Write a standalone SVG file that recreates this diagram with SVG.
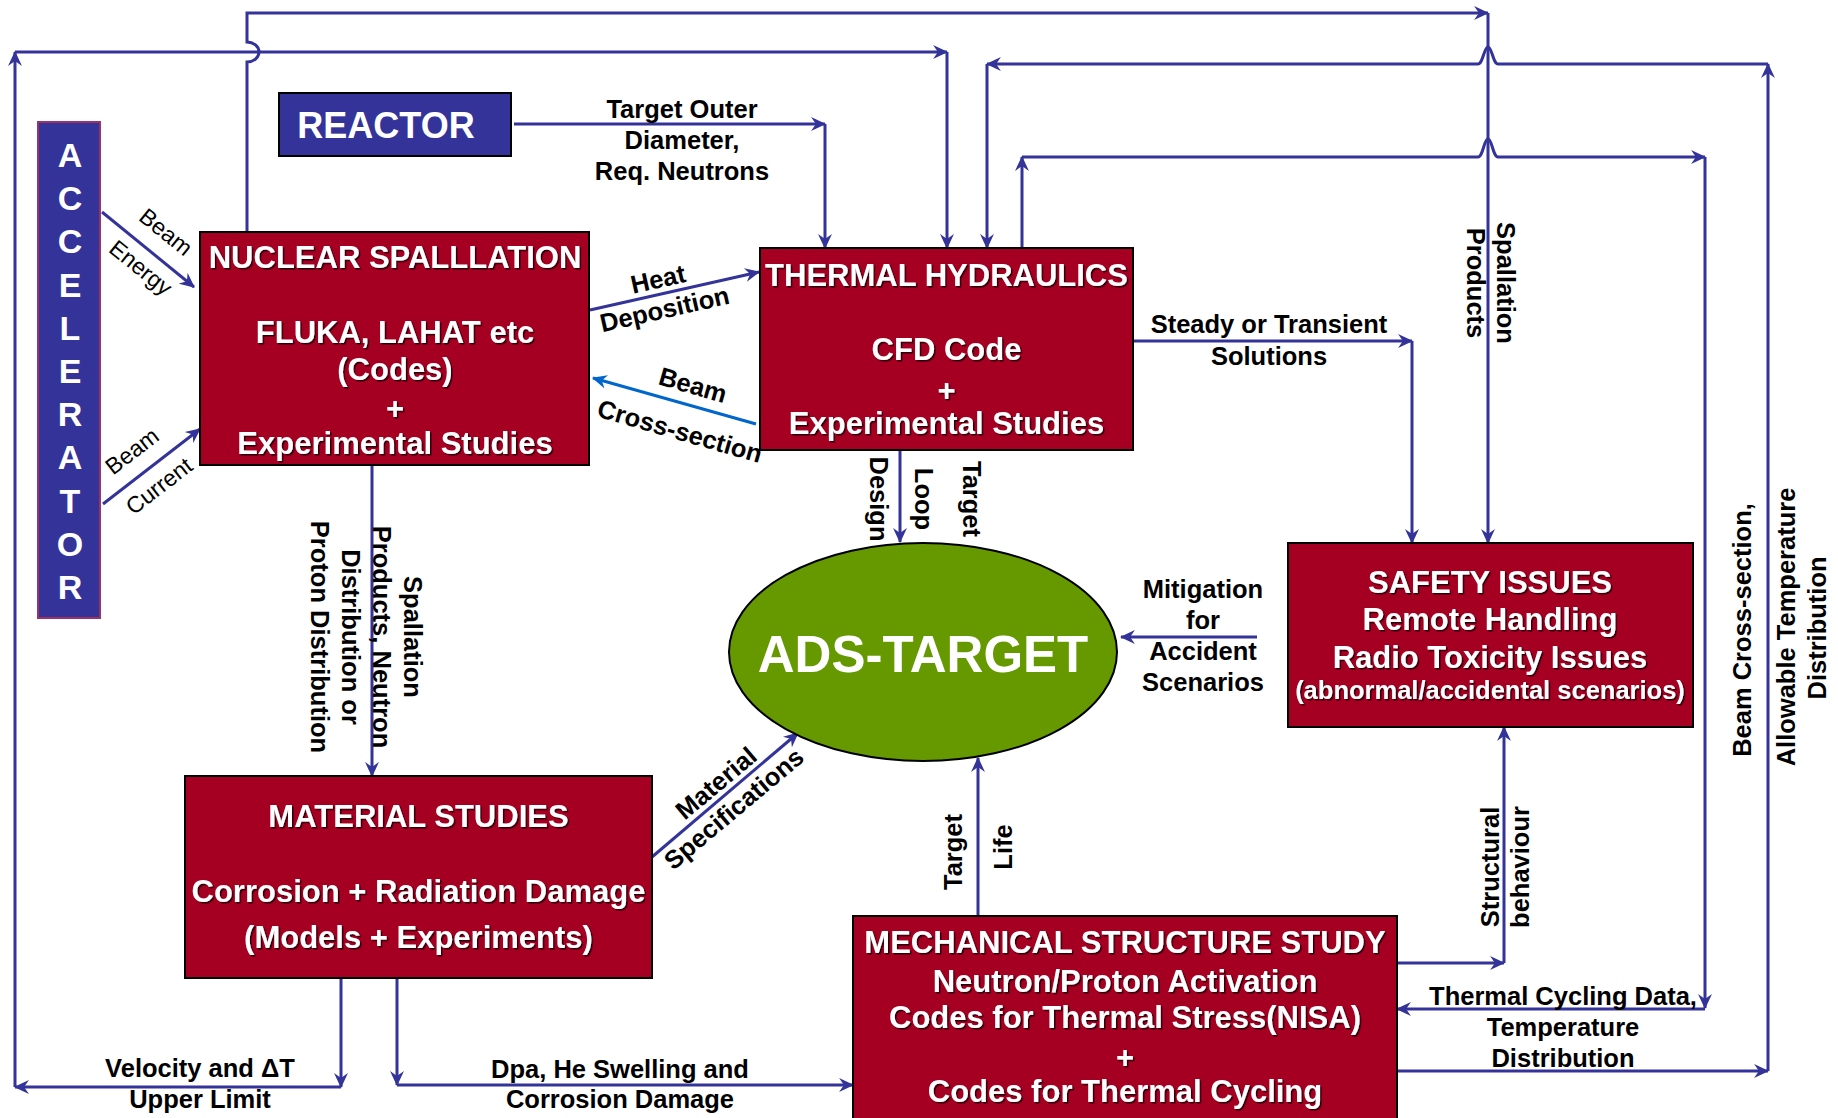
<svg xmlns="http://www.w3.org/2000/svg" width="1838" height="1118" viewBox="0 0 1838 1118">
<defs>
<marker id="ah" viewBox="0 0 14 14" refX="13" refY="7" markerWidth="15" markerHeight="15" markerUnits="userSpaceOnUse" orient="auto"><path d="M0,0.5 L14,7 L0,13.5 L4.5,7 Z" fill="#333399"/></marker>
<marker id="ah2" viewBox="0 0 14 14" refX="13" refY="7" markerWidth="15" markerHeight="15" markerUnits="userSpaceOnUse" orient="auto"><path d="M0,0.5 L14,7 L0,13.5 L4.5,7 Z" fill="#0066cc"/></marker>
<filter id="sh" x="-5%" y="-20%" width="110%" height="140%"><feDropShadow dx="1.5" dy="1.5" stdDeviation="0.4" flood-color="#000" flood-opacity="0.75"/></filter>
</defs>
<style>
text{font-family:"Liberation Sans",Arial,sans-serif;font-weight:bold}
.box{fill:#A50021;stroke:#000;stroke-width:2}
.blue{fill:#333399;stroke:#000;stroke-width:2}
.wt{fill:#fff;font-size:31px;text-anchor:middle;filter:url(#sh)}
.lb{fill:#000;font-size:25.5px;text-anchor:middle}
.rg{fill:#000;font-size:23px;font-weight:normal;text-anchor:middle}
.cn path{fill:none;stroke:#333399;stroke-width:3;marker-end:url(#ah)}
.cn path.lt{stroke:#0066cc;marker-end:url(#ah2)}
</style>
<rect width="1838" height="1118" fill="#fff"/>

<g id="connectors" class="cn">
<path d="M247,232 V62 A12,10 0 0 0 247,42 V13 H1488"/>
<path d="M1488,13 V543"/>
<path d="M341,978 V1087"/>
<path d="M341,1087 H15"/>
<path d="M15,1087 V52"/>
<path d="M15,52 H947"/>
<path d="M947,52 V248"/>
<path d="M1397,1071 H1768"/>
<path d="M1768,1071 V64"/>
<path d="M1768,64 H1498 C1493,64 1492,47 1488,47 C1484,47 1483,64 1478,64 H987"/>
<path d="M987,64 V248"/>
<path d="M1022,248 V157"/>
<path d="M1022,157 H1478 C1483,157 1484,139 1488,139 C1492,139 1493,157 1498,157 H1705"/>
<path d="M1705,157 V1008"/>
<path d="M1705,1009 H1397"/>
<path d="M514,124 H825"/>
<path d="M825,124 V248"/>
<path d="M1133,341 H1412"/>
<path d="M1412,341 V543"/>
<path d="M590,310 L759,272"/>
<path class="lt" d="M756,424 L593,378"/>
<path d="M102,212 L194,287"/>
<path d="M103,504 L200,429"/>
<path d="M372,466 V776"/>
<path d="M900,450 V542"/>
<path d="M1257,637 H1121"/>
<path d="M652,857 L798,733"/>
<path d="M978,916 V758"/>
<path d="M1397,963 H1504"/>
<path d="M1504,963 V727"/>
<path d="M397,978 V1085"/>
<path d="M397,1085 H853"/>
</g>

<g id="labels">
<text class="lb" x="682" y="118">Target Outer</text>
<text class="lb" x="682" y="149">Diameter,</text>
<text class="lb" x="682" y="180">Req. Neutrons</text>
<text class="lb" x="1269" y="333">Steady or Transient</text>
<text class="lb" x="1269" y="365">Solutions</text>
<text class="lb" x="1203" y="598">Mitigation</text>
<text class="lb" x="1203" y="629">for</text>
<text class="lb" x="1203" y="660">Accident</text>
<text class="lb" x="1203" y="691">Scenarios</text>
<text class="lb" x="200" y="1077">Velocity and ΔT</text>
<text class="lb" x="200" y="1108">Upper Limit</text>
<text class="lb" x="620" y="1078">Dpa, He Swelling and</text>
<text class="lb" x="620" y="1108">Corrosion Damage</text>
<text class="lb" x="1563" y="1005">Thermal Cycling Data,</text>
<text class="lb" x="1563" y="1036">Temperature</text>
<text class="lb" x="1563" y="1067">Distribution</text>
<text class="lb" transform="translate(658,279) rotate(-12.7)" y="9">Heat</text>
<text class="lb" transform="translate(665,311) rotate(-12.7)" y="7">Deposition</text>
<text class="lb" transform="translate(693,385) rotate(16)" y="9">Beam</text>
<text class="lb" transform="translate(680,431) rotate(16)" y="9">Cross-section</text>
<text class="lb" transform="translate(716,783) rotate(-40)" y="9">Material</text>
<text class="lb" transform="translate(735,810) rotate(-40)" y="7">Specifications</text>
<text class="rg" transform="translate(166,232) rotate(39)" y="8">Beam</text>
<text class="rg" transform="translate(139,270) rotate(39)" y="5">Energy</text>
<text class="rg" transform="translate(132,451) rotate(-37.7)" y="8">Beam</text>
<text class="rg" transform="translate(159,486) rotate(-37.7)" y="8">Current</text>
<text class="lb" transform="translate(404,637) rotate(90)"><tspan x="0" y="0">Spallation</tspan><tspan x="0" y="31">Products, Neutron</tspan><tspan x="0" y="62">Distribution or</tspan><tspan x="0" y="93">Proton Distribution</tspan></text>
<text class="lb" transform="translate(1497,283) rotate(90)"><tspan x="0" y="0">Spallation</tspan><tspan x="0" y="30">Products</tspan></text>
<text class="lb" transform="translate(870,499) rotate(90)">Design</text>
<text class="lb" transform="translate(915,499) rotate(90)">Loop</text>
<text class="lb" transform="translate(963,499) rotate(90)">Target</text>
<text class="lb" transform="translate(962,852) rotate(-90)">Target</text>
<text class="lb" transform="translate(1012,847) rotate(-90)">Life</text>
<text class="lb" transform="translate(1499,867) rotate(-90)">Structural</text>
<text class="lb" transform="translate(1529,867) rotate(-90)">behaviour</text>
<text class="lb" transform="translate(1751,630) rotate(-90)">Beam Cross-section,</text>
<text class="lb" transform="translate(1795,627) rotate(-90)">Allowable Temperature</text>
<text class="lb" transform="translate(1826,628) rotate(-90)">Distribution</text>
</g>

<g id="accelerator">
<rect x="38" y="122" width="62" height="496" fill="#333399" stroke="#993366" stroke-width="2"/>
<g fill="#fff" font-size="34" text-anchor="middle">
<text x="70" y="167">A</text><text x="70" y="210">C</text><text x="70" y="253">C</text><text x="70" y="297">E</text><text x="70" y="340">L</text><text x="70" y="383">E</text><text x="70" y="426">R</text><text x="70" y="469">A</text><text x="70" y="513">T</text><text x="70" y="556">O</text><text x="70" y="599">R</text>
</g>
</g>

<g id="reactor">
<rect class="blue" x="279" y="93" width="232" height="63"/>
<text x="386" y="138" fill="#fff" font-size="36" text-anchor="middle">REACTOR</text>
</g>

<g id="nuclear-spallation">
<rect class="box" x="200" y="232" width="389" height="233"/>
<text class="wt" x="395" y="268">NUCLEAR SPALLLATION</text>
<text class="wt" x="395" y="343">FLUKA, LAHAT etc</text>
<text class="wt" x="395" y="380">(Codes)</text>
<text class="wt" x="395" y="419">+</text>
<text class="wt" x="395" y="454">Experimental Studies</text>
</g>

<g id="thermal-hydraulics">
<rect class="box" x="760" y="248" width="373" height="202"/>
<text class="wt" x="946.5" y="286">THERMAL HYDRAULICS</text>
<text class="wt" x="946.5" y="360">CFD Code</text>
<text class="wt" x="946.5" y="401">+</text>
<text class="wt" x="946.5" y="434">Experimental Studies</text>
</g>

<g id="safety-issues">
<rect class="box" x="1288" y="543" width="405" height="184"/>
<text class="wt" x="1490" y="593">SAFETY ISSUES</text>
<text class="wt" x="1490" y="630">Remote Handling</text>
<text class="wt" x="1490" y="668">Radio Toxicity Issues</text>
<text class="wt" x="1490" y="699" style="font-size:25.5px">(abnormal/accidental scenarios)</text>
</g>

<g id="material-studies">
<rect class="box" x="185" y="776" width="467" height="202"/>
<text class="wt" x="418.5" y="827">MATERIAL STUDIES</text>
<text class="wt" x="418.5" y="902">Corrosion + Radiation Damage</text>
<text class="wt" x="418.5" y="948">(Models + Experiments)</text>
</g>

<g id="mechanical-structure">
<rect class="box" x="853" y="916" width="544" height="210"/>
<text class="wt" x="1125" y="953">MECHANICAL STRUCTURE STUDY</text>
<text class="wt" x="1125" y="992">Neutron/Proton Activation</text>
<text class="wt" x="1125" y="1028">Codes for Thermal Stress(NISA)</text>
<text class="wt" x="1125" y="1068">+</text>
<text class="wt" x="1125" y="1102">Codes for Thermal Cycling</text>
</g>

<g id="ads-target">
<ellipse cx="923" cy="652" rx="194" ry="109" fill="#669900" stroke="#000" stroke-width="2"/>
<text x="923" y="672" fill="#fff" font-size="51" text-anchor="middle">ADS-TARGET</text>
</g>
</svg>
